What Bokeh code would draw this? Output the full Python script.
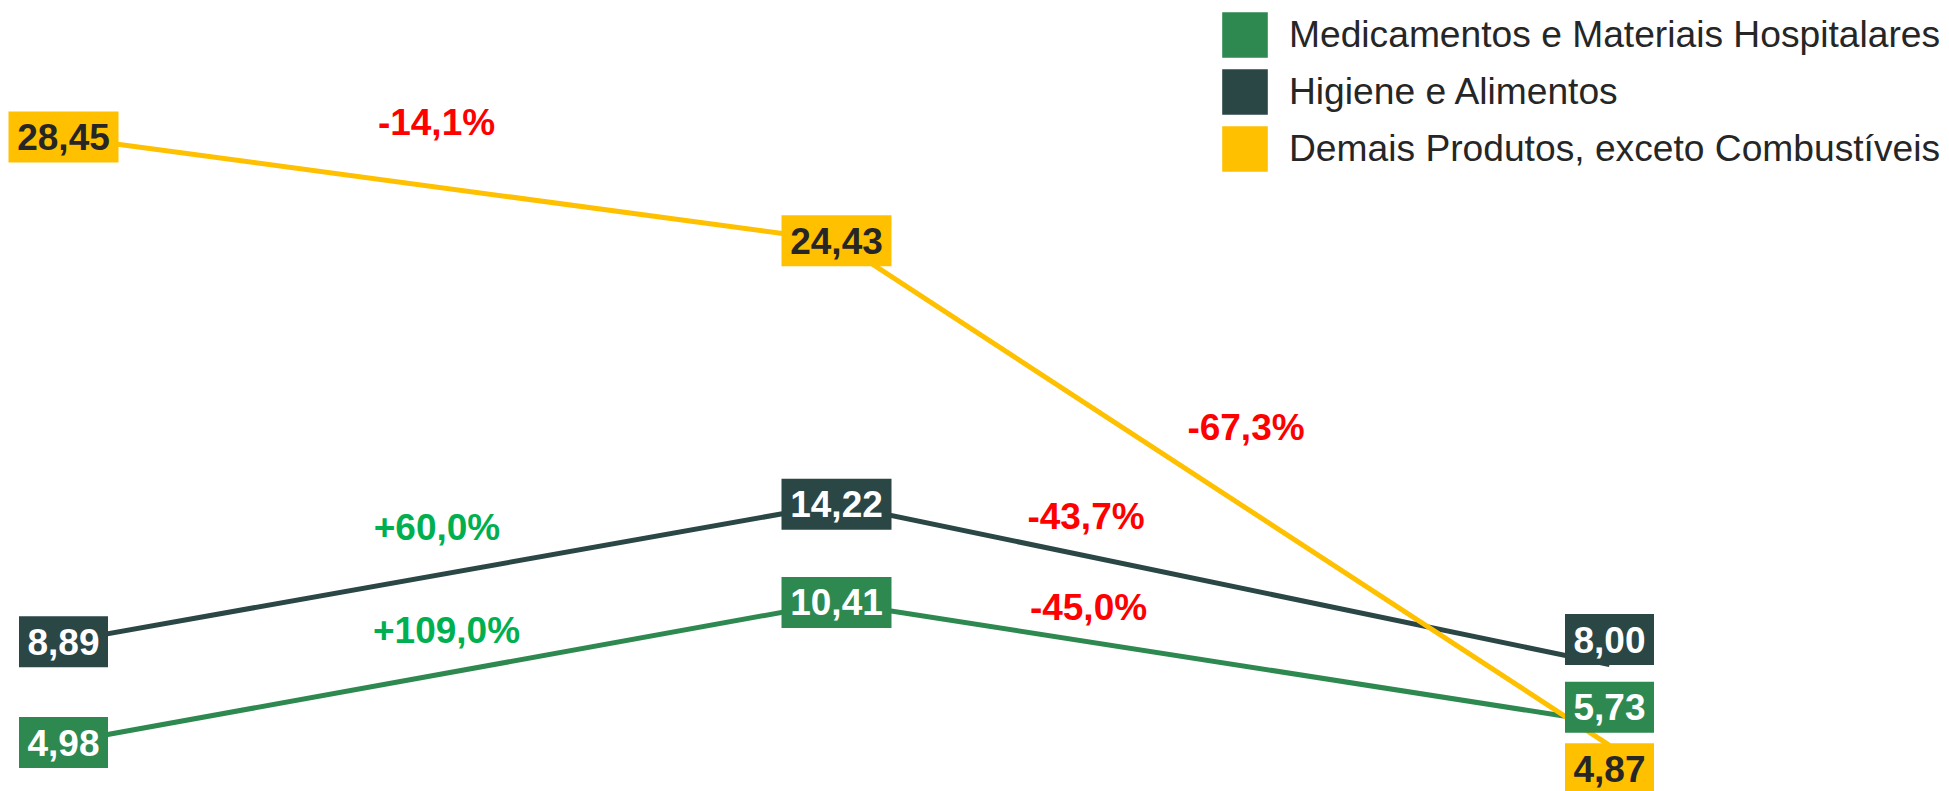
from bokeh.plotting import figure
from bokeh.models import Range1d, Legend, LegendItem, ColumnDataSource
from bokeh.core.properties import value
from bokeh.embed import file_html
from bokeh.resources import INLINE

# ---------------- data ----------------
periods = [0, 1, 2]
series_names = [
    "Medicamentos e Materiais Hospitalares",
    "Higiene e Alimentos",
    "Demais Produtos, exceto Combustíveis",
]
medicamentos = [4.98, 10.41, 5.73]
higiene = [8.89, 14.22, 8.00]
demais = [28.45, 24.43, 4.87]
medicamentos_labels = ["4,98", "10,41", "5,73"]
higiene_labels = ["8,89", "14,22", "8,00"]
demais_labels = ["28,45", "24,43", "4,87"]
# variation labels for segment 0->1 and 1->2
medicamentos_var = ["+109,0%", "-45,0%"]
higiene_var = ["+60,0%", "-43,7%"]
demais_var = ["-14,1%", "-67,3%"]

# ---------------- layout / style ----------------
W, H = 1949, 791
X0_PX, STEP_PX = 63.0, 773.0
PX_PER_UNIT = 25.8
REF_VAL, REF_PX = 28.45, 136.5
y_top = REF_VAL + REF_PX / PX_PER_UNIT
y_bottom = y_top - H / PX_PER_UNIT

FONT = "Liberation Sans"
colors = ["#2D894F", "#2A4645", "#FFC000"]
box_text_colors = ["#FFFFFF", "#FFFFFF", "#262626"]
var_colors = {"+": "#00B050", "-": "#FF0000"}
box_w = {4: 89, 5: 110}
BOX_H = 51
# label box vertical displacement in px (down positive) for each point
box_dy = [[0, 0, -16], [0, 0, -25], [0, 0, 23.5]]
# variation label offsets (dx, dy) in px relative to the segment midpoint
var_off = [
    [(-3.5, -42), (-134.5, -55)],
    [(-13, -45), (-137, -68)],
    [(-13.5, -66), (23, -66)],
]

p = figure(
    width=W, height=H, output_backend="svg", toolbar_location=None,
    x_range=Range1d(-X0_PX / STEP_PX, (W - X0_PX) / STEP_PX),
    y_range=Range1d(y_bottom, y_top),
    min_border=0, outline_line_color=None,
)
p.axis.visible = False
p.grid.visible = False
p.background_fill_color = "white"
p.border_fill_color = "white"

series = [medicamentos, higiene, demais]
labels = [medicamentos_labels, higiene_labels, demais_labels]
vars_ = [medicamentos_var, higiene_var, demais_var]

# lines
for vals, c in zip(series, colors):
    p.line(periods, vals, line_color=c, line_width=5)

# variation labels
for s, (vals, vlabels) in enumerate(zip(series, vars_)):
    for k, t in enumerate(vlabels):
        xm = (periods[k] + periods[k + 1]) / 2
        ym = (vals[k] + vals[k + 1]) / 2
        dx, dy = var_off[s][k]
        p.text(x=[xm], y=[ym], text=[t], x_offset=dx, y_offset=dy,
               text_align="center", text_baseline="middle",
               text_font=value(FONT), text_font_style="bold",
               text_font_size="37px", text_color=var_colors[t[0]])

# value boxes
legend_items = []
for s, (vals, labs) in enumerate(zip(series, labels)):
    ys = [v - d / PX_PER_UNIT for v, d in zip(vals, box_dy[s])]
    src = ColumnDataSource(dict(
        x=periods, y=ys, t=labs, w=[box_w[len(t)] for t in labs]))
    r = p.rect(x="x", y="y", width="w", height=BOX_H, width_units="screen",
               height_units="screen", fill_color=colors[s], line_color=None,
               source=src)
    p.text(x="x", y="y", text="t", source=src, text_align="center",
           text_baseline="middle", text_font=value(FONT),
           text_font_style="bold", text_font_size="37px",
           text_color=box_text_colors[s])
    legend_items.append(LegendItem(label=series_names[s], renderers=[r]))

legend = Legend(
    items=legend_items, location=(1216, 614), glyph_width=57, glyph_height=57,
    spacing=0, padding=0, margin=0, border_line_color=None,
    background_fill_alpha=0, label_text_font=FONT,
    label_text_font_size="37.2px", label_text_color="#262626",
    label_standoff=16, label_height=57,
)
p.add_layout(legend, "center")

open("out.html", "w").write(file_html(p, INLINE))
